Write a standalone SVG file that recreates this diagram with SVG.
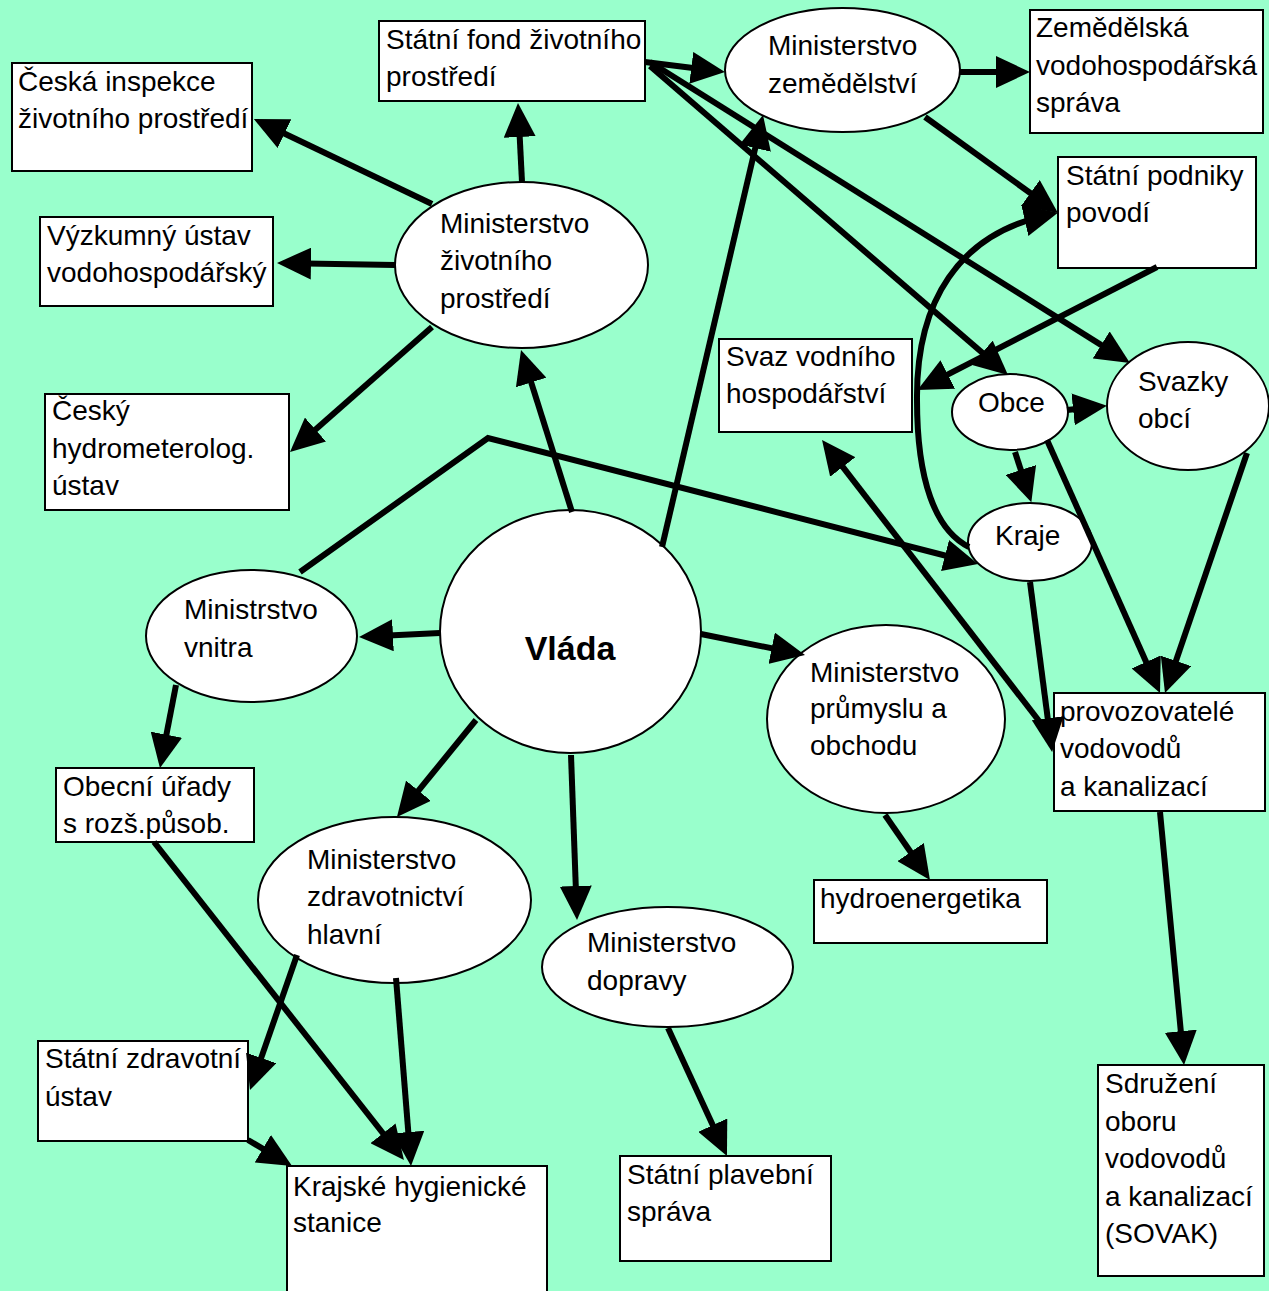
<svg xmlns="http://www.w3.org/2000/svg" width="1269" height="1291" viewBox="0 0 1269 1291">
<style>
.bx{fill:#fff;stroke:#000;stroke-width:2}
.el{fill:#fff;stroke:#000;stroke-width:2}
text{font-family:"Liberation Sans",Arial,sans-serif;font-size:28px;fill:#000}
.big{font-size:34px;font-weight:bold}
.c{fill:none;stroke:#000;stroke-width:6;marker-end:url(#ah)}
.n{fill:none;stroke:#000;stroke-width:6}
</style>
<defs>
<marker id="ah" markerWidth="34" markerHeight="32" refX="20" refY="16" orient="auto" markerUnits="userSpaceOnUse">
<path d="M0,0 L34,16 L0,32 z" fill="#000"/>
</marker>
</defs>
<rect x="0" y="0" width="1269" height="1291" fill="#99FFCC"/>

<g id="ceska-inspekce"><rect class="bx" x="12" y="63" width="240" height="108"/><text x="18" y="91">Česká inspekce</text><text x="18" y="128">životního prostředí</text></g>
<g id="statni-fond"><rect class="bx" x="379" y="21" width="266" height="80"/><text x="386" y="49">Státní fond životního</text><text x="386" y="86">prostředí</text></g>
<g id="mze"><ellipse class="el" cx="842.5" cy="70" rx="117.5" ry="62"/><text x="768" y="55">Ministerstvo</text><text x="768" y="93">zemědělství</text></g>
<g id="zvs"><rect class="bx" x="1030" y="10" width="233" height="123"/><text x="1036" y="37">Zemědělská</text><text x="1036" y="75">vodohospodářská</text><text x="1036" y="112">správa</text></g>
<g id="podniky"><rect class="bx" x="1058" y="157" width="198" height="111"/><text x="1066" y="185">Státní podniky</text><text x="1066" y="222">povodí</text></g>
<g id="mzp"><ellipse class="el" cx="521.5" cy="265" rx="126.5" ry="83"/><text x="440" y="233">Ministerstvo</text><text x="440" y="270">životního</text><text x="440" y="308">prostředí</text></g>
<g id="vuv"><rect class="bx" x="40" y="217" width="233" height="89"/><text x="47" y="245">Výzkumný ústav</text><text x="47" y="282">vodohospodářský</text></g>
<g id="chmu"><rect class="bx" x="45" y="394" width="244" height="116"/><text x="52" y="420">Český</text><text x="52" y="458">hydrometerolog.</text><text x="52" y="495">ústav</text></g>
<g id="svaz"><rect class="bx" x="719" y="339" width="193" height="93"/><text x="726" y="366">Svaz vodního</text><text x="726" y="403">hospodářství</text></g>
<g id="obce"><ellipse class="el" cx="1010" cy="412" rx="58" ry="38"/><text x="978" y="412">Obce</text></g>
<g id="svazky"><ellipse class="el" cx="1188" cy="406" rx="81" ry="64"/><text x="1138" y="391">Svazky</text><text x="1138" y="428">obcí</text></g>
<g id="kraje"><ellipse class="el" cx="1030" cy="542" rx="62" ry="39"/><text x="995" y="545">Kraje</text></g>
<g id="vlada"><ellipse class="el" cx="570.5" cy="631.5" rx="130.5" ry="121.5"/><text class="big" x="570" y="660" text-anchor="middle">Vláda</text></g>
<g id="vnitra"><ellipse class="el" cx="251.5" cy="636" rx="105.5" ry="66"/><text x="184" y="619">Ministrstvo</text><text x="184" y="657">vnitra</text></g>
<g id="mpo"><ellipse class="el" cx="886" cy="719" rx="119" ry="94"/><text x="810" y="682">Ministerstvo</text><text x="810" y="718">průmyslu a</text><text x="810" y="755">obchodu</text></g>
<g id="provozovatele"><rect class="bx" x="1054" y="693" width="211" height="118"/><text x="1060" y="721">provozovatelé</text><text x="1060" y="758">vodovodů</text><text x="1060" y="796">a kanalizací</text></g>
<g id="obecni-urady"><rect class="bx" x="56" y="768" width="198" height="74"/><text x="63" y="796">Obecní úřady</text><text x="63" y="833">s rozš.působ.</text></g>
<g id="mzd"><ellipse class="el" cx="394.5" cy="900" rx="136.5" ry="83"/><text x="307" y="869">Ministerstvo</text><text x="307" y="906">zdravotnictví</text><text x="307" y="944">hlavní</text></g>
<g id="md"><ellipse class="el" cx="667.5" cy="967" rx="125.5" ry="60"/><text x="587" y="952">Ministerstvo</text><text x="587" y="990">dopravy</text></g>
<g id="hydroenergetika"><rect class="bx" x="814" y="880" width="233" height="63"/><text x="820" y="908">hydroenergetika</text></g>
<g id="szu"><rect class="bx" x="38" y="1041" width="210" height="100"/><text x="45" y="1068">Státní zdravotní</text><text x="45" y="1106">ústav</text></g>
<g id="khs"><rect class="bx" x="287" y="1166" width="260" height="140"/><text x="293" y="1196">Krajské hygienické</text><text x="293" y="1232">stanice</text></g>
<g id="sps"><rect class="bx" x="620" y="1156" width="211" height="105"/><text x="627" y="1184">Státní plavební</text><text x="627" y="1221">správa</text></g>
<g id="sovak"><rect class="bx" x="1098" y="1065" width="166" height="211"/><text x="1105" y="1093">Sdružení</text><text x="1105" y="1131">oboru</text><text x="1105" y="1168">vodovodů</text><text x="1105" y="1206">a kanalizací</text><text x="1105" y="1243">(SOVAK)</text></g>

<g id="connectors">
<line class="c" x1="432" y1="204" x2="266.5" y2="125"/>
<line class="c" x1="522" y1="182" x2="518.7" y2="117"/>
<line class="c" x1="395" y1="265" x2="291" y2="263.2"/>
<line class="c" x1="432" y1="327" x2="300.5" y2="442.8"/>
<line class="c" x1="572" y1="512" x2="525.2" y2="363.4"/>
<line class="c" x1="662" y1="547" x2="759.8" y2="128.6"/>
<line class="c" x1="645" y1="62" x2="711.1" y2="70.3"/>
<line class="c" x1="960" y1="72" x2="1016" y2="72"/>
<line class="c" x1="925" y1="117" x2="1046.6" y2="204.8"/>
<path class="c" d="M969,547 C935,530 917,480 917,400 C916,300 960,235 1044.3,215.9"/>
<line class="c" x1="650" y1="66" x2="997.4" y2="365.8"/>
<line class="c" x1="650" y1="62" x2="1118.1" y2="355.6"/>
<line class="c" x1="1157" y1="267" x2="930" y2="383.6"/>
<line class="c" x1="1067" y1="410" x2="1093" y2="407.3"/>
<line class="c" x1="1015" y1="452" x2="1027" y2="489"/>
<line class="c" x1="1047" y1="440" x2="1154.3" y2="680.2"/>
<line class="c" x1="1247" y1="453" x2="1169.5" y2="679.8"/>
<line class="c" x1="1030" y1="582" x2="1050.3" y2="738.1"/>
<line class="c" x1="1046" y1="730" x2="830.6" y2="451.1"/>
<polyline class="c" points="300,572 488,438 964.4,560.5"/>
<line class="c" x1="440" y1="633" x2="373" y2="636.3"/>
<line class="c" x1="176" y1="685" x2="162.6" y2="754.3"/>
<line class="c" x1="476" y1="720" x2="405.8" y2="806.2"/>
<line class="c" x1="571" y1="755" x2="576.5" y2="906"/>
<line class="c" x1="701" y1="634" x2="791.3" y2="652.2"/>
<line class="c" x1="885" y1="815" x2="922" y2="868.5"/>
<line class="c" x1="668" y1="1028" x2="721.1" y2="1143.3"/>
<line class="c" x1="1160" y1="812" x2="1182.7" y2="1051.1"/>
<line class="c" x1="297" y1="955" x2="254.6" y2="1076.8"/>
<line class="c" x1="396" y1="978" x2="409.9" y2="1152"/>
<line class="c" x1="154" y1="842" x2="395.3" y2="1149"/>
<line class="c" x1="248" y1="1140" x2="280" y2="1158.9"/>
</g>
</svg>
